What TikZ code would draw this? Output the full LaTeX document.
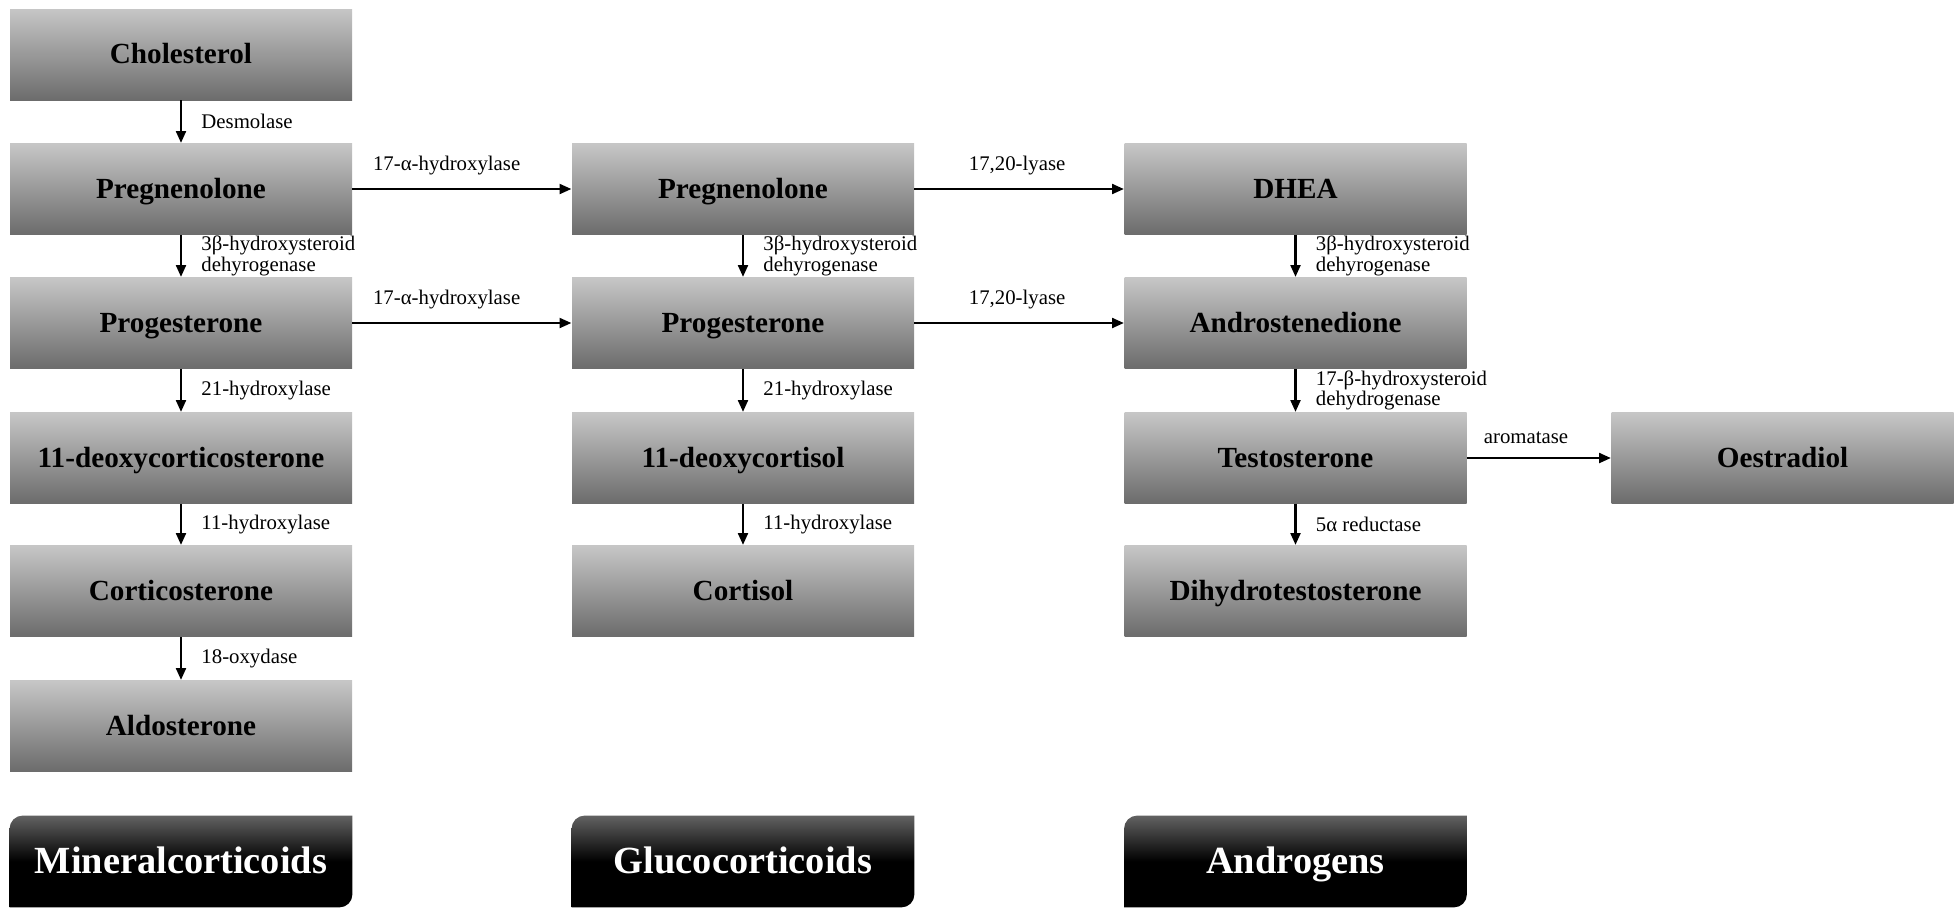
\documentclass[tikz,border=0pt]{standalone}
\usepackage{fontspec}
\setmainfont{Liberation Serif}
\usetikzlibrary{arrows.meta,backgrounds}
\definecolor{boxtop}{RGB}{198,198,198}
\definecolor{boxbot}{RGB}{108,108,108}
\definecolor{classtop}{RGB}{98,98,98}

\begin{document}
\begin{tikzpicture}[x=0.5pt,y=-0.5pt,
  hormone/.style={minimum width=171pt,minimum height=45.5pt,inner sep=0pt,
    text height=9.4pt,text depth=0pt,
    top color=boxtop,bottom color=boxbot,font=\bfseries\fontsize{14.6}{16}\selectfont},
  classbox/.style={minimum width=171pt,minimum height=45.5pt,inner sep=0pt,
    text height=12.4pt,text depth=0pt,
    text=white,font=\bfseries\fontsize{19.2}{21}\selectfont},
  flow/.style={-{Triangle[length=6pt,width=4.8pt]},line width=1.45pt},
  enzyme/.style={inner sep=1pt,align=left,font=\fontsize{10.4}{10.2}\selectfont}]
  \useasboundingbox (0,0) rectangle (1955,907);
  % mineralcorticoid pathway
  \node[hormone] (chol)    at (181,54.5) {Cholesterol};
  \node[hormone] (pregA)   at (181,189)  {Pregnenolone};
  \node[hormone] (progA)   at (181,323)  {Progesterone};
  \node[hormone] (doc)     at (181,458)  {11-deoxycorticosterone};
  \node[hormone] (cortico) at (181,591)  {Corticosterone};
  \node[hormone] (aldo)    at (181,726)  {Aldosterone};
  % glucocorticoid pathway
  \node[hormone] (pregB)    at (743,189) {Pregnenolone};
  \node[hormone] (progB)    at (743,323) {Progesterone};
  \node[hormone] (deoxy)    at (743,458) {11-deoxycortisol};
  \node[hormone] (cortisol) at (743,591) {Cortisol};
  % androgen pathway
  \node[hormone] (dhea)   at (1295.5,189) {DHEA};
  \node[hormone] (andro)  at (1295.5,323) {Androstenedione};
  \node[hormone] (testo)  at (1295.5,458) {Testosterone};
  \node[hormone] (dht)    at (1295.5,591) {Dihydrotestosterone};
  \node[hormone] (oestra) at (1782.5,458) {Oestradiol};
  % classes
  \node[classbox] (mineral) at (181,861.5)    {Mineralcorticoids};
  \node[classbox] (gluco)   at (743,861.5)    {Glucocorticoids};
  \node[classbox] (andgen)  at (1295.5,861.5) {Androgens};
  \begin{scope}[on background layer]
    \foreach \n in {mineral,gluco,andgen}
      \shade[top color=classtop,bottom color=black,middle color=black]
        (\n.west) [rounded corners=6.5pt] -- (\n.north west) -- (\n.north)
        [sharp corners] -- (\n.north east) -- (\n.east)
        [rounded corners=6.5pt] -- (\n.south east) -- (\n.south)
        [sharp corners] -- (\n.south west) -- cycle;
  \end{scope}
  % enzymes down the columns
  \foreach \a/\b/\t in {chol/pregA/Desmolase,
      pregA/progA/{3β-hydroxysteroid\\dehyrogenase},
      progA/doc/21-hydroxylase, doc/cortico/11-hydroxylase,
      cortico/aldo/18-oxydase,
      pregB/progB/{3β-hydroxysteroid\\dehyrogenase},
      progB/deoxy/21-hydroxylase, deoxy/cortisol/11-hydroxylase,
      dhea/andro/{3β-hydroxysteroid\\dehyrogenase},
      andro/testo/{17-β-hydroxysteroid\\dehydrogenase},
      testo/dht/5α reductase}
    \draw[flow] (\a) -- (\b) node[enzyme,midway,right=8.5pt] {\t};
  % enzymes across the columns
  \foreach \a/\b/\t/\p in {pregA/pregB/17-α-hydroxylase/.43,
      progA/progB/17-α-hydroxylase/.43,
      pregB/dhea/{17,20-lyase}/.49, progB/andro/{17,20-lyase}/.49,
      testo/oestra/aromatase/.41}
    \draw[flow] (\a) -- (\b) node[enzyme,pos=\p,above=5.5pt] {\t};
\end{tikzpicture}
\end{document}
